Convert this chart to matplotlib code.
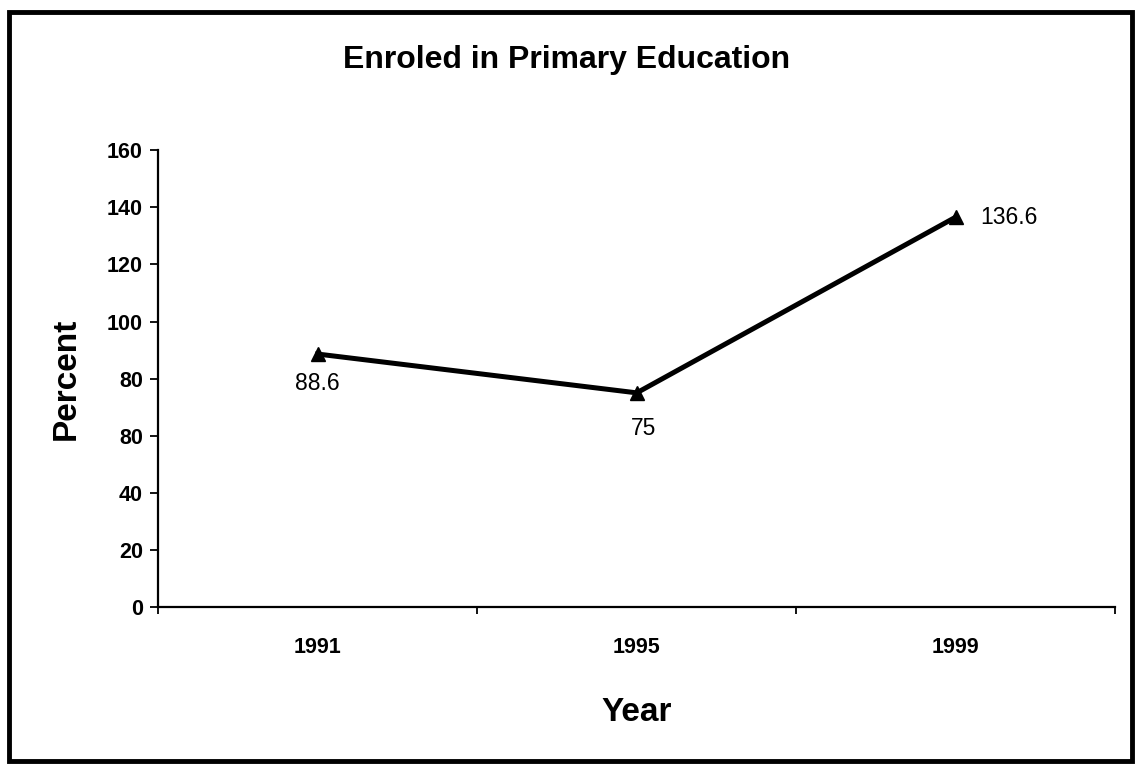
import numpy as np
from matplotlib import pyplot as plt
from matplotlib.patches import Rectangle

# datos del grafico
years = ["1991", "1995", "1999"]
percent = [88.6, 75, 136.6]
yticks = [0, 20, 40, 60, 80, 100, 120, 140, 160]
ytick_labels = ["0", "20", "40", "80", "80", "100", "120", "140", "160"]
label_text = ["88.6", "75", "136.6"]

plt.rcParams['font.family'] = ['Liberation Sans', 'DejaVu Sans']

fig = plt.figure(figsize=(11.38, 7.75), dpi=100)
ax = fig.add_axes([0.139, 0.217, 0.841, 0.589])

x = np.arange(len(years))
ax.plot(x, percent, color="black", linewidth=3.6, marker="^", markersize=10, zorder=3)

# etiquetas de los puntos
offsets = [(0, -21), (5, -26), (38, 0)]
for xi, yi, txt, off in zip(x, percent, label_text, offsets):
    ax.annotate(txt, (xi, yi), xytext=off, textcoords="offset points",
                ha="center", va="center", fontsize=16.5)

ax.set_xlim(-0.5, 2.5)
ax.set_ylim(0, 160)
ax.set_xticks(x)
ax.set_xticklabels(years, fontsize=15.5, fontweight="bold")
ax.set_xticks([-0.5, 0.5, 1.5, 2.5], minor=True)
ax.tick_params(axis="x", which="major", length=0, pad=22)
ax.tick_params(axis="x", which="minor", length=5, width=1.3, direction="out")
ax.set_yticks(yticks)
ax.set_yticklabels(ytick_labels, fontsize=15.5, fontweight="bold")
ax.tick_params(axis="y", length=6, width=1.3, pad=5)

for s in ["top", "right"]:
    ax.spines[s].set_visible(False)
ax.spines["left"].set_linewidth(1.6)
ax.spines["bottom"].set_linewidth(1.6)

ax.set_xlabel("Year", fontsize=24, fontweight="bold", labelpad=28)
ax.set_ylabel("Percent", fontsize=24, fontweight="bold", labelpad=18)
fig.text(0.498, 0.922, "Enroled in Primary Education", ha="center", va="center",
         fontsize=23, fontweight="bold")

# marco exterior
fig.patches.append(Rectangle((0.008, 0.018), 0.987, 0.966, transform=fig.transFigure,
                             fill=False, edgecolor="black", linewidth=3.5))

plt.savefig("out.png", dpi=100)
